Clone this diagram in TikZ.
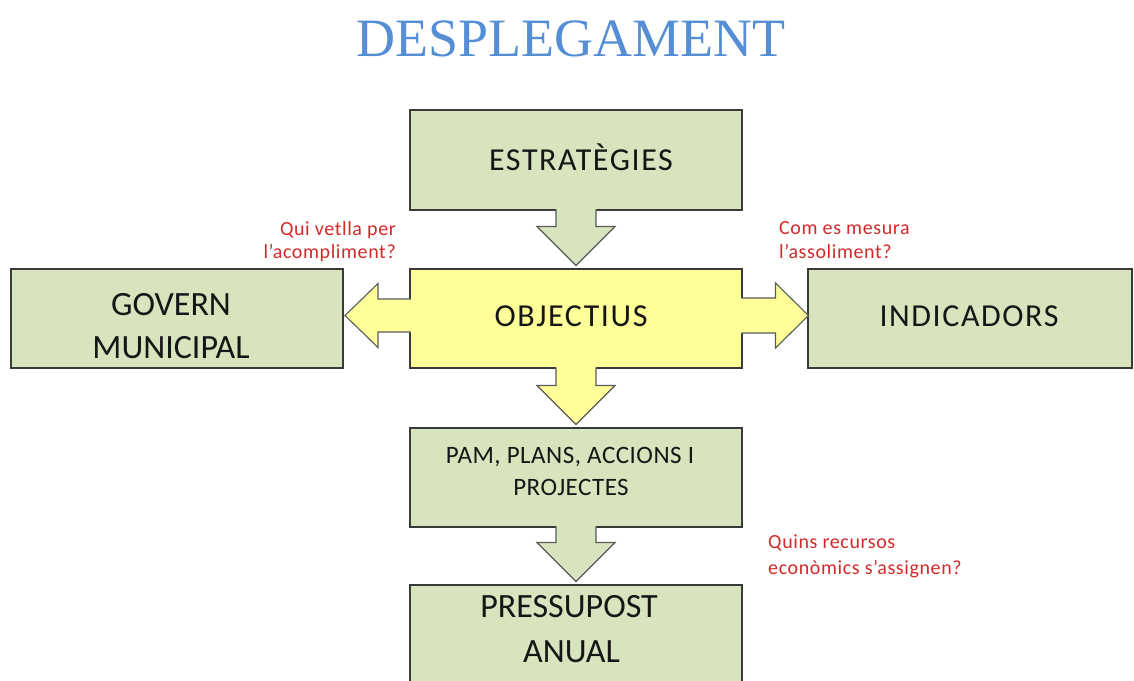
\documentclass[tikz,border=0pt]{standalone}
\usepackage{fontspec}
\setmainfont{Carlito}
\newfontfamily\titlefont{Liberation Serif}
\newfontfamily\spacedfont[LetterSpace=5]{Carlito}
\newfontfamily\pamfont[LetterSpace=2]{Carlito}
\newfontfamily\qfont[LetterSpace=3]{Carlito}
\usetikzlibrary{calc}
\definecolor{boxgreen}{HTML}{D7E4BD}
\definecolor{boxyellow}{HTML}{FFFF99}
\definecolor{boxline}{HTML}{3A3A3A}
\definecolor{arrline}{HTML}{5A5A5A}
\definecolor{titleblue}{HTML}{558ED5}
\definecolor{qred}{HTML}{D42A2A}
\definecolor{txt}{HTML}{161616}
\tikzset{
  box/.style={draw=boxline, line width=1.5pt, rectangle, inner sep=0pt, outer sep=0pt, anchor=north west},
  arrowoutline/.style={draw=arrline, line width=1.1pt, line join=miter},
  bigtext/.style={anchor=base, inner sep=0pt, text=txt, font=\fontsize{34}{40}\selectfont},
  spacedtext/.style={anchor=base, inner sep=0pt, text=txt, font=\spacedfont\fontsize{32}{38}\selectfont},
  pamtext/.style={anchor=base, inner sep=0pt, text=txt, font=\pamfont\fontsize{25}{30}\selectfont},
  qtext/.style={inner sep=0pt, text=qred, font=\qfont\fontsize{20}{24}\selectfont},
}
\newcommand{\blkdown}[3]{%
  \coordinate (bs) at (#1.south);
  \coordinate (bt) at ($(#2.north)+(0,3.5)$);
  \coordinate (bh) at ($(bt)+(0,39)$);
  \fill[#3] ($(bs)+(-20,1.2)$) -- ($(bh)+(-20,0)$) -- ($(bh)+(-39,0)$) -- (bt) -- ($(bh)+(39,0)$) -- ($(bh)+(20,0)$) -- ($(bs)+(20,1.2)$) -- cycle;
  \draw[arrowoutline] ($(bs)+(-20,0.75)$) -- ($(bh)+(-20,0)$) -- ($(bh)+(-39,0)$) -- (bt) -- ($(bh)+(39,0)$) -- ($(bh)+(20,0)$) -- ($(bs)+(20,0.75)$);
}
\newcommand{\blkleft}[3]{%
  \coordinate (bs) at ($(#1.west)+(0,3)$);
  \coordinate (bt) at ($(#2.east)+(2,3)$);
  \coordinate (bh) at ($(bt)+(33,0)$);
  \fill[#3] ($(bs)+(1.2,16.5)$) -- ($(bh)+(0,16.5)$) -- ($(bh)+(0,32)$) -- (bt) -- ($(bh)+(0,-32)$) -- ($(bh)+(0,-16.5)$) -- ($(bs)+(1.2,-16.5)$) -- cycle;
  \draw[arrowoutline] ($(bs)+(0.75,16.5)$) -- ($(bh)+(0,16.5)$) -- ($(bh)+(0,32)$) -- (bt) -- ($(bh)+(0,-32)$) -- ($(bh)+(0,-16.5)$) -- ($(bs)+(0.75,-16.5)$);
}
\newcommand{\blkright}[3]{%
  \coordinate (bs) at ($(#1.east)+(0,3)$);
  \coordinate (bt) at ($(#2.west)+(0.5,3)$);
  \coordinate (bh) at ($(bt)+(-33,0)$);
  \fill[#3] ($(bs)+(-1.2,17.5)$) -- ($(bh)+(0,17.5)$) -- ($(bh)+(0,32.5)$) -- (bt) -- ($(bh)+(0,-32.5)$) -- ($(bh)+(0,-17.5)$) -- ($(bs)+(-1.2,-17.5)$) -- cycle;
  \draw[arrowoutline] ($(bs)+(-0.75,17.5)$) -- ($(bh)+(0,17.5)$) -- ($(bh)+(0,32.5)$) -- (bt) -- ($(bh)+(0,-32.5)$) -- ($(bh)+(0,-17.5)$) -- ($(bs)+(-0.75,-17.5)$);
}
\begin{document}
\begin{tikzpicture}[x=1pt, y=1pt]
\clip (0,0) rectangle (1134,-680);
\fill[white] (0,0) rectangle (1134,-680);

% title
\node[anchor=base, inner sep=0pt, text=titleblue, font=\titlefont\fontsize{54}{60}\selectfont] (title) at (571,-56) {DESPLEGAMENT};

% boxes
\node[box, fill=boxgreen, minimum width=332pt, minimum height=100pt] (estr) at (410,-110) {};
\node[box, fill=boxyellow, minimum width=332pt, minimum height=99pt] (obj) at (410,-269) {};
\node[box, fill=boxgreen, minimum width=332pt, minimum height=99pt] (gov) at (11,-269) {};
\node[box, fill=boxgreen, minimum width=324pt, minimum height=99pt] (ind) at (808,-269) {};
\node[box, fill=boxgreen, minimum width=332pt, minimum height=99pt] (pam) at (410,-428) {};
\node[box, fill=boxgreen, minimum width=332pt, minimum height=110pt] (pres) at (410,-585) {};

% block arrows
\blkdown{estr}{obj}{boxgreen}
\blkdown{obj}{pam}{boxyellow}
\blkdown{pam}{pres}{boxgreen}
\blkleft{obj}{gov}{boxyellow}
\blkright{obj}{ind}{boxyellow}

% box texts
\node[spacedtext] (testr) at (581,-170) {ESTRATÈGIES};
\node[spacedtext] (tobj) at (571,-326) {OBJECTIUS};
\node[spacedtext] (tind) at (969,-326) {INDICADORS};
\node[bigtext] (tgov1) at (171,-315) {GOVERN};
\node[bigtext] (tgov2) at (171,-358) {MUNICIPAL};
\node[pamtext] (tpam1) at (570,-463) {PAM, PLANS, ACCIONS I};
\node[pamtext] (tpam2) at (571,-495) {PROJECTES};
\node[bigtext] (tpres1) at (569,-617) {PRESSUPOST};
\node[bigtext] (tpres2) at (571.5,-662) {ANUAL};

% questions
\node[qtext, anchor=base east] (q1a) at (396,-235) {Qui vetlla per};
\node[qtext, anchor=base east] (q1b) at (396,-258) {l’acompliment?};
\node[qtext, anchor=base west] (q2a) at (779,-234) {Com es mesura};
\node[qtext, anchor=base west] (q2b) at (779,-258) {l’assoliment?};
\node[qtext, anchor=base west] (q3a) at (768,-548) {Quins recursos};
\node[qtext, anchor=base west] (q3b) at (768,-574) {econòmics s’assignen?};
\end{tikzpicture}
\end{document}
